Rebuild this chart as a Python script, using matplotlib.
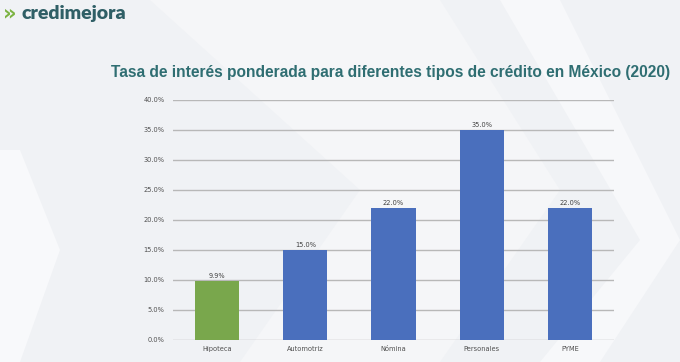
import numpy as np
import matplotlib.pyplot as plt
from matplotlib.patches import Polygon

categorias = ["Hipoteca", "Automotriz", "Nómina", "Personales", "PYME"]
tasas = [9.9, 15.0, 22.0, 35.0, 22.0]
colores = ["#79a74c", "#4a6fbd", "#4a6fbd", "#4a6fbd", "#4a6fbd"]
yticks = [0, 5, 10, 15, 20, 25, 30, 35, 40]

fig = plt.figure(figsize=(6.8, 3.62), dpi=100)
fig.patch.set_facecolor("#f0f2f5")

# faint chevrons in the background
bg = fig.add_axes([0, 0, 1, 1], zorder=-5)
bg.set_xlim(0, 680)
bg.set_ylim(362, 0)
bg.axis("off")
bg.add_patch(Polygon([(0, 150), (20, 150), (60, 250), (20, 362), (0, 362)], closed=True, fc="#f8f9fb", ec="none"))
bg.add_patch(Polygon([(150, 0), (440, 0), (560, 190), (440, 362), (240, 362), (360, 190)],
                     closed=True, fc="#f5f6f8", ec="none"))
bg.add_patch(Polygon([(500, 0), (560, 0), (680, 240), (600, 362), (540, 362), (640, 240)],
                     closed=True, fc="#f7f8fa", ec="none"))

# logo
fig.text(0.004, 0.962, "»", color="#7cb342", fontsize=15, fontweight="bold", va="center")
fig.text(0.032, 0.962, "credimejora", color="#2f5f66", fontsize=14, fontweight="heavy",
         va="center", family="Lato")

fig.text(0.985, 0.80, "Tasa de interés ponderada para diferentes tipos de crédito en México (2020)",
         ha="right", va="center", color="#2f6e72", fontsize=11.2, fontweight="bold",
         family="Liberation Sans")

ax = fig.add_axes([0.2544, 0.0608, 0.6485, 0.663])
ax.set_facecolor("none")
x = np.arange(len(categorias))
bars = ax.bar(x, tasas, width=0.5, color=colores, zorder=3)
for xi, v in zip(x, tasas):
    ax.text(xi, v + 0.3, f"{v:.1f}%", ha="center", va="bottom", fontsize=4.8, color="#404040")

ax.set_xlim(-0.5, len(categorias) - 0.5)
ax.set_ylim(0, 40)
ax.set_yticks(yticks)
ax.set_yticklabels([f"{t:.1f}%" for t in yticks])
ax.set_xticks(x)
ax.set_xticklabels(categorias)
ax.tick_params(axis="both", length=0, labelsize=4.8, labelcolor="#505050", pad=6)
ax.tick_params(axis="x", pad=4)
ax.grid(axis="y", color="#b8b8b8", linewidth=1.0, zorder=0)
for s in ax.spines.values():
    s.set_visible(False)

plt.savefig("out.png", dpi=100, facecolor=fig.get_facecolor())
